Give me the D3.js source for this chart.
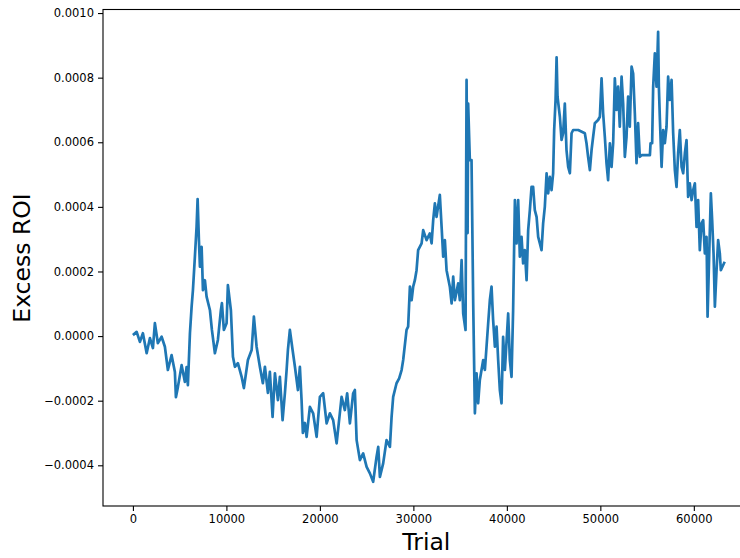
<!DOCTYPE html>
<html>
<head>
<meta charset="utf-8">
<script src="https://cdn.jsdelivr.net/npm/d3@7"></script>
<style>
  body { margin: 0; background: #fff; }
  svg { display: block; font-family: "DejaVu Sans", sans-serif; }
</style>
</head>
<body>
<script>
// trial number of each traced point
var trials = [0,400,750,1070,1470,1820,2140,2350,2670,3070,3420,3740,4140,4490,4600,4810,5210,5560,5740,5880,
  6100,6280,6420,6630,6810,6920,7060,7170,7350,7490,7700,7880,8240,8450,8770,9090,9410,9520,9730,10020,
  10160,10480,10700,10910,11230,11630,11870,12300,12700,12940,
  13230,13580,13900,14120,14440,14650,14940,15190,15510,15720,16010,16260,16440,16580,16790,17080,17330,17650,17860,18040,
  18180,18400,18580,18930,19280,19650,20000,20350,20720,21070,21420,21790,22320,22670,22920,23210,23560,23740,23930,24280,
  24630,25000,25350,25700,26060,26240,26420,26770,27130,27490,27670,27840,28200,28480,
  28740,28910,29270,29440,29630,29810,29980,30160,30340,30510,30880,31050,31410,31760,31950,32120,32300,32480,32830,33020,
  33190,33370,33550,33900,34090,34260,34440,34790,34970,35160,35330,35580,35690,35800,35860,36040,36220,36400,36580,36760,
  36930,37110,37470,37650,38000,38180,38360,38530,38720,38900,39070,39250,39430,39600,39790,40140,40320,40500,40670,40860,
  41040,41210,41390,41570,41740,41920,42110,42280,42460,42640,42810,42990,43180,43350,43530,43710,43880,44060,44250,44420,
  44600,44780,44950,45060,45210,45320,45420,45670,45850,46020,46200,46380,46560,46740,46920,47090,47630,48340,48520,48690,
  48880,49060,49230,49410,49760,49950,50130,50300,50480,50660,50830,51020,51200,51370,51550,51730,51900,52080,52270,52440,
  52620,52800,52970,53150,53340,53510,53690,53870,54040,54220,54410,55300,55370,55540,55650,55830,56010,56180,56260,56360,
  56550,56720,56900,57080,57250,57430,57620,57790,57970,58150,58320,58500,58690,58860,59040,59220,59390,59570,59760,59930,
  60110,60290,60460,60640,60820,61000,61180,61360,61470,61610,61820,61960,62110,62250,62430,62600,62780,62890,63300];

// excess ROI at each point, in millionths
var roiMicro = [3,13,-18,9,-53,-6,-37,40,-22,-2,-33,-105,-59,-111,-189,-158,-90,-142,-96,-152,
  9,91,142,246,338,424,297,215,276,142,173,122,80,19,-53,-12,80,102,19,40,
  158,80,-64,-95,-84,-126,-161,-74,-43,60,
  -33,-95,-146,-95,-176,-111,-250,-115,-198,-126,-260,-176,-105,-43,19,-43,-95,-167,-95,-198,
  -300,-269,-312,-219,-239,-312,-188,-177,-270,-239,-260,-332,-188,-229,-177,-270,-177,-167,-322,-384,
  -363,-405,-425,-451,-374,-343,-436,-394,-322,-343,-250,-188,-146,-131,
  -105,-74,19,29,153,111,153,173,204,266,287,328,297,318,287,359,411,369,437,338,
  246,297,204,153,101,184,111,163,111,235,70,19,793,319,720,545,545,101,-239,-115,
  -208,-136,-74,-105,39,111,153,50,-33,29,-74,-167,-208,-2,-105,70,-74,-126,80,421,
  287,421,246,307,225,266,173,328,390,462,462,390,369,307,287,266,349,400,504,442,
  493,452,504,638,731,863,741,679,607,628,720,576,524,504,628,638,638,628,597,555,
  514,576,617,659,669,679,798,689,617,535,483,597,524,597,798,700,772,648,803,720,
  555,617,741,648,834,813,689,535,659,555,560,560,597,597,772,875,772,942,772,679,
  524,638,597,648,803,731,793,628,514,462,566,638,524,504,566,607,431,473,421,452,
  473,338,421,266,349,359,256,307,60,215,442,359,256,91,204,297,256,204,230];

var xTicks = [0, 10000, 20000, 30000, 40000, 50000, 60000];
var yTicks = [-0.0004, -0.0002, 0, 0.0002, 0.0004, 0.0006, 0.0008, 0.0010];

var data = trials.map(function (t, i) {
  return { trial: t, roi: roiMicro[i] * 1e-6 };
});

var W = 740, H = 558;
var plot = { left: 103, top: 9.5, right: 756, bottom: 506 };

var x = d3.scaleLinear().domain([-3200, 66650]).range([plot.left, plot.right]);
var y = d3.scaleLinear().domain([-0.000526, 0.001011]).range([plot.bottom, plot.top]);

var svg = d3.select('body').append('svg')
  .attr('width', W)
  .attr('height', H);

//line
var line = d3.line()
  .x(function (d) { return x(d.trial); })
  .y(function (d) { return y(d.roi); });

svg.append('path')
  .datum(data)
  .attr('fill', 'none')
  .attr('stroke', '#1f77b4')
  .attr('stroke-width', 2.7)
  .attr('stroke-linejoin', 'round')
  .attr('d', line);

//frame
svg.append('rect')
  .attr('x', plot.left)
  .attr('y', plot.top)
  .attr('width', plot.right - plot.left)
  .attr('height', plot.bottom - plot.top)
  .attr('fill', 'none')
  .attr('stroke', '#000')
  .attr('stroke-width', 1.1);

//axes
var xAxis = d3.axisBottom(x).tickValues(xTicks).tickFormat(d3.format('d')).tickSize(5).tickPadding(4);
var yAxis = d3.axisLeft(y).tickValues(yTicks).tickFormat(d3.format('.4f')).tickSize(5).tickPadding(4);

var gx = svg.append('g')
  .attr('transform', 'translate(0,' + plot.bottom + ')')
  .call(xAxis);
var gy = svg.append('g')
  .attr('transform', 'translate(' + plot.left + ',0)')
  .call(yAxis);

[gx, gy].forEach(function (g) {
  g.select('.domain').remove();
  g.selectAll('.tick line').attr('stroke', '#000').attr('stroke-width', 1.1);
  g.selectAll('.tick text')
    .attr('fill', '#000')
    .style('font-family', '"DejaVu Sans", sans-serif')
    .style('font-size', '11.5px');
});

//axis labels
svg.append('text')
  .attr('x', x(30000) + 13)
  .attr('y', 550)
  .attr('text-anchor', 'middle')
  .style('font-size', '23.5px')
  .text('Trial');

svg.append('text')
  .attr('transform', 'translate(30,' + 258 + ') rotate(-90)')
  .attr('text-anchor', 'middle')
  .style('font-size', '23.5px')
  .text('Excess ROI');
</script>
</body>
</html>
